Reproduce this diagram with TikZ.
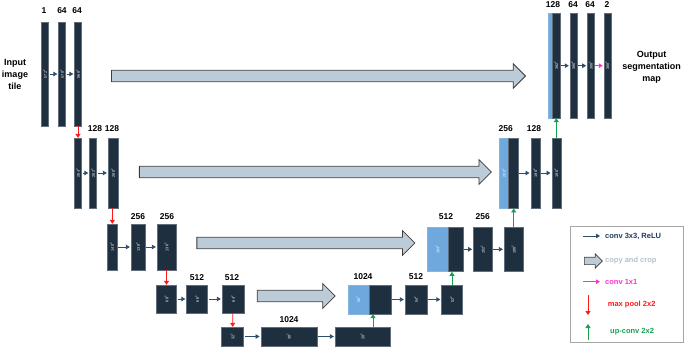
\documentclass[tikz,border=0pt]{standalone}
\usepackage{fontspec}
\setmainfont{Liberation Sans}
\usetikzlibrary{arrows.meta, shapes.arrows}
\definecolor{unetdark}{HTML}{1E2F40}
\definecolor{unetcrop}{HTML}{6FA8DC}
\definecolor{unetconv}{HTML}{2E4D6B}
\definecolor{unetcopy}{HTML}{BCCBD8}
\definecolor{unetedge}{HTML}{3C3C3C}
\definecolor{unetpink}{HTML}{FF33CC}
\definecolor{unetred}{HTML}{FF1A1A}
\definecolor{unetgreen}{HTML}{14A150}
\definecolor{unetnavy}{HTML}{1F3A5F}
\definecolor{unetgrey}{HTML}{B4C0CC}
\newcommand{\mapsize}[1]{\rotatebox{90}{#1\textsuperscript{2}}}
\tikzset{
  fmap/.style={draw=unetdark!70!white, fill=unetdark, line width=0.3pt, inner sep=0pt,
               text=white, font=\fontsize{3.8}{4}\selectfont},
  cropmap/.style={fmap, draw=unetcrop!85!white, fill=unetcrop},
  chan/.style={font=\fontsize{8.5}{9}\selectfont\bfseries, inner sep=0pt},
  conv/.style={-{Triangle[length=4pt,width=4.5pt]}, draw=unetconv, line width=0.8pt,
               shorten >=1pt, shorten <=1pt},
  fullconv/.style={conv, draw=unetpink},
  pool/.style={-{Triangle[length=4pt,width=5pt]}, draw=unetred, line width=0.8pt},
  upconv/.style={-{Triangle[length=4pt,width=5pt]}, draw=unetgreen, line width=0.8pt},
  copyarrow/.style={single arrow, draw=unetedge, fill=unetcopy, line width=0.8pt,
                    inner xsep=0pt, inner ysep=5.3pt, single arrow head extend=6.7pt,
                    single arrow head indent=0pt},
  keytext/.style={anchor=west, font=\fontsize{7.5}{8}\selectfont\bfseries, inner sep=0pt}
}
\begin{document}
\begin{tikzpicture}[x=1pt, y=-1pt]
    \useasboundingbox (0,0) rectangle (685,347);

    \node[align=center, font=\fontsize{9}{12}\selectfont\bfseries] (intext) at (15,74) {Input\\image\\tile};
    \node[align=center, font=\fontsize{9}{12}\selectfont\bfseries] (outtext) at (651.7,67) {Output\\segmentation\\map};

    % contracting path
    \node[fmap, minimum width=7, minimum height=104] (e11) at (45,74) {\mapsize{572}};
    \node[fmap, minimum width=7, minimum height=104] (e12) at (62,74) {\mapsize{570}};
    \node[fmap, minimum width=7, minimum height=104] (e13) at (78,74) {\mapsize{568}};
    \node[chan] (c11) at (44,11) {1};
    \node[chan] (c12) at (62,11) {64};
    \node[chan] (c13) at (77,11) {64};

    \node[fmap, minimum width=7, minimum height=70] (e21) at (78,173) {\mapsize{284}};
    \node[fmap, minimum width=7, minimum height=70] (e22) at (93,173) {\mapsize{282}};
    \node[fmap, minimum width=10, minimum height=70] (e23) at (113,173) {\mapsize{280}};
    \node[chan] (c22) at (95,129) {128};
    \node[chan] (c23) at (112,129) {128};

    \node[fmap, minimum width=10, minimum height=46] (e31) at (112,247) {\mapsize{140}};
    \node[fmap, minimum width=14, minimum height=46] (e32) at (138,247) {\mapsize{138}};
    \node[fmap, minimum width=19, minimum height=46] (e33) at (166.5,247) {\mapsize{136}};
    \node[chan] (c32) at (138,217) {256};
    \node[chan] (c33) at (167,217) {256};

    \node[fmap, minimum width=20, minimum height=28] (e41) at (166.5,299) {\mapsize{68}};
    \node[fmap, minimum width=21, minimum height=28] (e42) at (197,299) {\mapsize{66}};
    \node[fmap, minimum width=22, minimum height=28] (e43) at (233,299) {\mapsize{64}};
    \node[chan] (c42) at (197,278) {512};
    \node[chan] (c43) at (232,278) {512};

    % bottleneck
    \node[fmap, minimum width=22, minimum height=19] (b1) at (232.5,336.5) {\mapsize{32}};
    \node[fmap, minimum width=56, minimum height=19] (b2) at (288.7,336.5) {\mapsize{30}};
    \node[fmap, minimum width=55, minimum height=19] (b3) at (362.5,336.5) {\mapsize{28}};
    \node[chan] (c52) at (289,320) {1024};

    % expansive path
    \node[cropmap, minimum width=21.3, minimum height=29] (d4crop) at (358.3,299.5) {\mapsize{56}};
    \node[fmap, minimum width=21.7, minimum height=29] (d4up) at (380,299.5) {};
    \node[fmap, minimum width=22, minimum height=29] (d42) at (416,299.5) {\mapsize{54}};
    \node[fmap, minimum width=21, minimum height=29] (d43) at (452,299.5) {\mapsize{52}};
    \node[chan] (c41d) at (363,277) {1024};
    \node[chan] (c42d) at (416,277) {512};

    \node[cropmap, minimum width=20.4, minimum height=44.7] (d3crop) at (437.5,249.3) {\mapsize{104}};
    \node[fmap, minimum width=15.6, minimum height=44.7] (d3up) at (455.5,249.3) {};
    \node[fmap, minimum width=19, minimum height=44.7] (d32) at (482.8,249.3) {\mapsize{102}};
    \node[fmap, minimum width=19.3, minimum height=44.7] (d33) at (513.7,249.3) {\mapsize{100}};
    \node[chan] (c31d) at (446,217) {512};
    \node[chan] (c32d) at (482.7,217) {256};

    \node[cropmap, minimum width=9.3, minimum height=70.6] (d2crop) at (503.7,173) {\mapsize{200}};
    \node[fmap, minimum width=10, minimum height=70.6] (d2up) at (513.3,173) {};
    \node[fmap, minimum width=9.3, minimum height=70.6] (d22) at (535.3,173) {\mapsize{198}};
    \node[fmap, minimum width=9.3, minimum height=70.6] (d23) at (556.3,173) {\mapsize{196}};
    \node[chan] (c21d) at (505.7,129) {256};
    \node[chan] (c22d) at (534,129) {128};

    \node[cropmap, minimum width=4, minimum height=104.7] (d1crop) at (550.3,65.7) {};
    \node[fmap, minimum width=7.7, minimum height=104.7] (d1up) at (556.2,65.7) {\mapsize{392}};
    \node[fmap, minimum width=6.7, minimum height=104.7] (d12) at (573.3,65.7) {\mapsize{390}};
    \node[fmap, minimum width=6.7, minimum height=104.7] (d13) at (590.7,65.7) {\mapsize{388}};
    \node[fmap, minimum width=6.7, minimum height=104.7] (d14) at (607.3,65.7) {\mapsize{388}};
    \node[chan] (c11d) at (553,5) {128};
    \node[chan] (c12d) at (573,5) {64};
    \node[chan] (c13d) at (590,5) {64};
    \node[chan] (c14d) at (607,5) {2};

    % copy and crop
    \node[copyarrow, minimum height=414] (copy1) at (315.7,76) {};
    \node[copyarrow, minimum height=352] (copy2) at (312.5,172) {};
    \node[copyarrow, minimum height=218] (copy3) at (303,243) {};
    \node[copyarrow, minimum height=78] (copy4) at (293.3,296) {};

    \draw[conv] (e11) -- (e12);
    \draw[conv] (e12) -- (e13);
    \draw[conv] (e21) -- (e22);
    \draw[conv] (e22) -- (e23);
    \draw[conv] (e31) -- (e32);
    \draw[conv] (e32) -- (e33);
    \draw[conv] (e41) -- (e42);
    \draw[conv] (e42) -- (e43);
    \draw[conv] (b1) -- (b2);
    \draw[conv] (b2) -- (b3);
    \draw[conv] (d4up) -- (d42);
    \draw[conv] (d42) -- (d43);
    \draw[conv] (d3up) -- (d32);
    \draw[conv] (d32) -- (d33);
    \draw[conv] (d2up) -- (d22);
    \draw[conv] (d22) -- (d23);
    \draw[conv] (d1up) -- (d12);
    \draw[conv] (d12) -- (d13);
    \draw[fullconv] (d13) -- (d14);

    \draw[pool] (e13) -- (e21);
    \draw[pool] (e23) -- (e31);
    \draw[pool] (e33) -- (e41);
    \draw[pool] (e43) -- (b1);

    \draw[upconv] ([xshift=10.5pt]b3.north) -- ([xshift=10.5pt]b3.north |- d4up.south);
    \draw[upconv] (d43.north) -- (d43.north |- d3up.south);
    \draw[upconv] (d33.north) -- (d33.north |- d2up.south);
    \draw[upconv] (d23.north) -- (d23.north |- d1up.south);

    % legend
    \node[draw=gray!70, line width=0.6pt, minimum width=113, minimum height=116, inner sep=0pt] (key) at (626.5,284) {};
    \coordinate (k1) at (581.7,236);
    \node[keytext, text=unetnavy] (k1t) at (605,236) {conv 3x3, ReLU};
    \draw[conv, shorten >=5pt] (k1) -- (k1t.west);
    \node[copyarrow, minimum height=18, inner ysep=3.4pt, single arrow head extend=3.4pt, line width=0.6pt] (k2) at (591.5,261) {};
    \node[keytext, text=unetgrey] (k2t) at (605,261) {copy and crop};
    \coordinate (k3) at (582,281.7);
    \node[keytext, text=unetpink] (k3t) at (605,281.7) {conv 1x1};
    \draw[fullconv, shorten >=5pt] (k3) -- (k3t.west);
    \coordinate (k4) at (588,295);
    \coordinate (k4e) at (588,315);
    \draw[pool] (k4) -- (k4e);
    \node[keytext, text=unetred] (k4t) at (607.7,305) {max pool 2x2};
    \coordinate (k5) at (588,340);
    \coordinate (k5e) at (588,324);
    \draw[upconv] (k5) -- (k5e);
    \node[keytext, text=unetgreen] (k5t) at (610,331.7) {up-conv 2x2};
\end{tikzpicture}
\end{document}
